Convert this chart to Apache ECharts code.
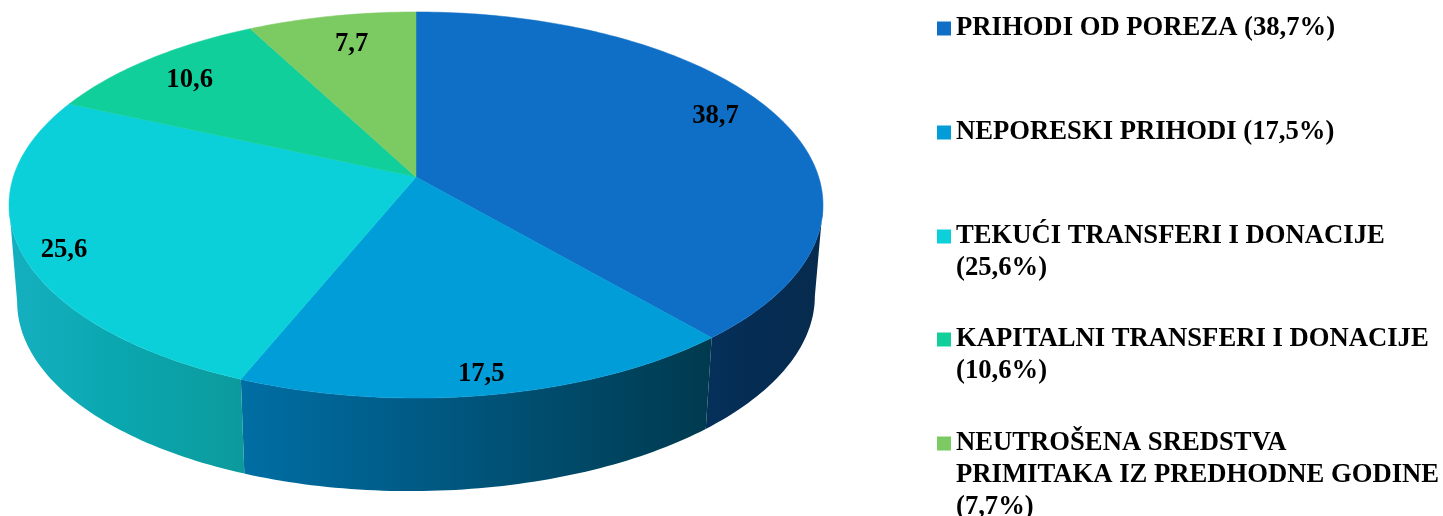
<!DOCTYPE html>
<html>
<head>
<meta charset="utf-8">
<title>Prihodi</title>
<style>
  html, body { margin: 0; padding: 0; background: #fff; }
  #main { width: 1443px; height: 516px; }
</style>
<script src="https://cdn.jsdelivr.net/npm/echarts@6/dist/echarts.min.js"></script>
</head>
<body>
<div id="main"></div>
<script>
var categories = [
  'PRIHODI OD POREZA (38,7%)',
  'NEPORESKI PRIHODI (17,5%)',
  'TEKUĆI TRANSFERI I DONACIJE\n(25,6%)',
  'KAPITALNI TRANSFERI I DONACIJE\n(10,6%)',
  'NEUTROŠENA SREDSTVA\nPRIMITAKA IZ PREDHODNE GODINE\n(7,7%)'
];
var values = [38.7, 17.5, 25.6, 10.6, 7.7];
var colors = ['#0f6fc6', '#009dd9', '#0bd0d9', '#10cf9b', '#7cca62'];
// side wall shading, left to right
var wallColors = [
  ['#05305a', '#052c52', '#062b4e'],
  ['#006ea4', '#00547a', '#003a4e'],
  ['#14b0c0', '#0aa6ae', '#0c9a9c']
];

var myChart = echarts.init(document.getElementById('main'));

// perspective of the disc
var cx = 416, cy = 177, ax = 402.7, ay = 189, persp = 0.145;
var wallDx = 0.98, wallDy = 0.995, wallTilt = 0.007, ellipseMid = 205, wallMid = 299;
var labelR = [0.85, 0.915, 0.905, 0.82, 0.8];
var labelDeg = [-3, 0.5, -2, -1, 1];
var legendY = [26, 130, 234, 337, 441];
var lineH = 32;
var font = 'bold 26.67px "Liberation Serif"';

var total = values.reduce(function (a, b) { return a + b; }, 0);

function project(deg, r) {
  var t = deg * Math.PI / 180;
  var u = r * Math.sin(t), v = r * Math.cos(t);
  var d = 1 + persp * v;
  return [cx + ax * u / d, cy - ay * v / d];
}

function lower(p) {
  return [
    cx + (p[0] - cx) * wallDx,
    wallMid + (p[1] - ellipseMid) * wallDy - (p[0] - cx) * wallTilt
  ];
}

function arc(from, to) {
  var pts = [], n = Math.ceil((to - from) / 1);
  for (var k = 0; k <= n; k++) {
    pts.push(project(from + (to - from) * k / n, 1));
  }
  return pts;
}

function makeRender(i) {
  var before = values.slice(0, i).reduce(function (a, b) { return a + b; }, 0);
  return function (params, api) {
    var from = before / total * 360;
    var to = (before + api.value(0)) / total * 360;
    var children = [];

    // only the front part of the rim is seen
    var wFrom = Math.max(from, 98.3), wTo = Math.min(to, 261.7);
    if (wTo > wFrom) {
      var rim = arc(wFrom, wTo);
      var wall = rim.concat(rim.map(lower).reverse());
      children.push({
        type: 'polygon',
        z2: 1,
        shape: { points: wall },
        style: {
          fill: {
            type: 'linear', x: 0, y: 0, x2: 1, y2: 0,
            colorStops: [
              { offset: 0, color: wallColors[i][0] },
              { offset: 0.5, color: wallColors[i][1] },
              { offset: 1, color: wallColors[i][2] }
            ]
          }
        }
      });
    }

    children.push({
      type: 'polygon',
      z2: 2,
      shape: { points: [[cx, cy]].concat(arc(from, to)) },
      style: { fill: colors[i], stroke: colors[i], lineWidth: 0.5 }
    });

    var p = project((from + to) / 2 + labelDeg[i], labelR[i]);
    children.push({
      type: 'text',
      z2: 3,
      x: p[0],
      y: p[1],
      style: {
        text: api.value(0).toFixed(1).replace('.', ','),
        font: font,
        fill: '#000',
        align: 'center',
        verticalAlign: 'middle'
      }
    });

    return { type: 'group', children: children };
  };
}

var series = categories.map(function (name, i) {
  return {
    name: name,
    type: 'custom',
    coordinateSystem: 'none',
    silent: true,
    itemStyle: { color: colors[i] },
    renderItem: makeRender(i),
    data: [[values[i]]]
  };
});

// one legend per entry: the rows are not evenly spaced in the picture
var legends = categories.map(function (name, i) {
  var lines = name.split('\n').length;
  var blank = new Array(lines).join('\n');
  return {
    left: 937,
    top: legendY[i] - (2 * lines - 1) * lineH / 2,
    padding: 0,
    orient: 'vertical',
    itemWidth: 14,
    itemHeight: 14,
    itemGap: 0,
    icon: 'rect',
    selectedMode: false,
    align: 'left',
    textStyle: {
      fontFamily: 'Liberation Serif',
      fontWeight: 'bold',
      fontSize: 26.67,
      color: '#000',
      lineHeight: lineH,
      padding: [5, 0, 0, 0]
    },
    formatter: function (n) { return blank + n; },
    data: [{ name: name, itemStyle: { color: colors[i] } }]
  };
});

var option = {
  animation: false,
  backgroundColor: '#fff',
  color: colors,
  legend: legends,
  series: series
};

myChart.setOption(option);
</script>
</body>
</html>
